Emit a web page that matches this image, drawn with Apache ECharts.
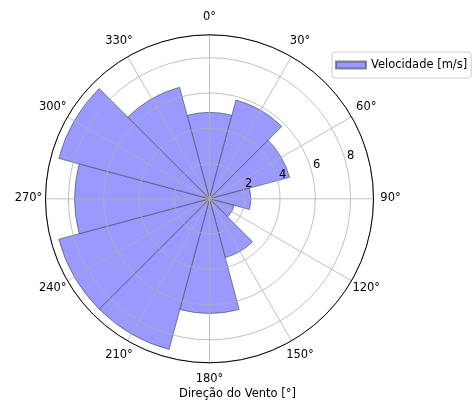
<!DOCTYPE html>
<html>
<head>
<meta charset="utf-8">
<script src="https://cdn.jsdelivr.net/npm/echarts@6/dist/echarts.min.js"></script>
<style>
  html, body { margin: 0; padding: 0; background: #fff; }
  #chart { width: 475px; height: 405px; }
</style>
</head>
<body>
<div id="chart"></div>
<script>
// Wind direction sectors (degrees, clockwise from north) and mean speed per sector
const directions = [0, 30, 60, 90, 120, 150, 180, 210, 240, 270, 300, 330];
const speeds = [4.9, 5.8, 4.7, 2.35, 1.45, 3.45, 6.5, 8.85, 8.85, 7.65, 8.85, 6.55];
const radialTicks = [2, 4, 6, 8];
const radialLabelAngle = 75;
const seriesName = 'Velocidade [m/s]';
const axisTitle = 'Direção do Vento [°]';

const rMax = 9.3;
const center = [209.5, 198.8];
const radius = 164;
// direction labels sit centred on a ring just outside the frame
const labelRadius = rMax * (181 / radius);
const font = 'DejaVu Sans';
const fs = 11.5;
const gridColor = '#b0b0b0';

const chart = echarts.init(document.getElementById('chart'), null, { renderer: 'canvas' });

const textStyle = { fontFamily: font, fontSize: fs, color: '#000' };

chart.setOption({
  animation: false,
  backgroundColor: '#fff',
  title: {
    text: axisTitle,
    left: 'center',
    top: 388,
    padding: 0,
    textStyle: Object.assign({ fontWeight: 'normal' }, textStyle)
  },
  legend: {
    data: [seriesName],
    left: 332,
    top: 52,
    padding: [7, 4, 7, 3],
    itemWidth: 30,
    itemHeight: 7,
    itemGap: 5,
    borderColor: '#cccccc',
    borderWidth: 1,
    borderRadius: 3,
    icon: 'rect',
    textStyle: textStyle
  },
  polar: [
    { center: center, radius: radius },
    { center: center, radius: radius }
  ],
  angleAxis: [
    {
      polarIndex: 0,
      type: 'category',
      data: directions.map(String),
      startAngle: 105,
      clockwise: true,
      axisLine: { show: false },
      axisTick: { show: false },
      axisLabel: { show: false },
      splitLine: { show: false }
    },
    {
      polarIndex: 1,
      type: 'value',
      min: 0,
      max: 360,
      interval: 30,
      startAngle: 90,
      clockwise: true,
      z: 10,
      axisLine: { show: true, lineStyle: { color: '#000', width: 1 } },
      axisTick: { show: false },
      axisLabel: { show: false },
      splitLine: { show: true, lineStyle: { color: gridColor, width: 0.8 } }
    }
  ],
  radiusAxis: [
    { polarIndex: 0, type: 'value', min: 0, max: rMax, show: false },
    {
      polarIndex: 1,
      type: 'value',
      min: 0,
      max: rMax,
      interval: 2,
      z: 10,
      axisLine: { show: false },
      axisTick: { show: false },
      axisLabel: { show: false },
      splitLine: { show: true, lineStyle: { color: gridColor, width: 0.8 } }
    }
  ],
  series: [
    {
      name: seriesName,
      type: 'bar',
      coordinateSystem: 'polar',
      polarIndex: 0,
      data: speeds,
      barCategoryGap: '0%',
      barGap: '0%',
      z: 2,
      itemStyle: {
        color: '#9999ff',
        borderColor: 'rgba(70,70,70,0.6)',
        borderWidth: 1
      }
    },
    {
      // compass direction labels
      type: 'scatter',
      coordinateSystem: 'polar',
      polarIndex: 1,
      clip: false,
      silent: true,
      symbolSize: 0,
      itemStyle: { opacity: 1 },
      data: directions.map(d => [labelRadius, d]),
      label: Object.assign({
        show: true,
        position: 'inside',
        align: 'center',
        verticalAlign: 'middle',
        offset: [0, -1],
        textBorderWidth: 0,
        formatter: p => p.value[1] + '°'
      }, textStyle),
      z: 12
    },
    {
      // radial speed labels
      type: 'scatter',
      coordinateSystem: 'polar',
      polarIndex: 1,
      clip: false,
      silent: true,
      symbolSize: 0,
      itemStyle: { opacity: 1 },
      data: radialTicks.map(t => [t, radialLabelAngle]),
      label: Object.assign({
        show: true,
        position: 'inside',
        align: 'center',
        verticalAlign: 'middle',
        offset: [5, -6],
        textBorderWidth: 0,
        formatter: p => String(p.value[0])
      }, textStyle),
      z: 12
    }
  ]
});
</script>
</body>
</html>
